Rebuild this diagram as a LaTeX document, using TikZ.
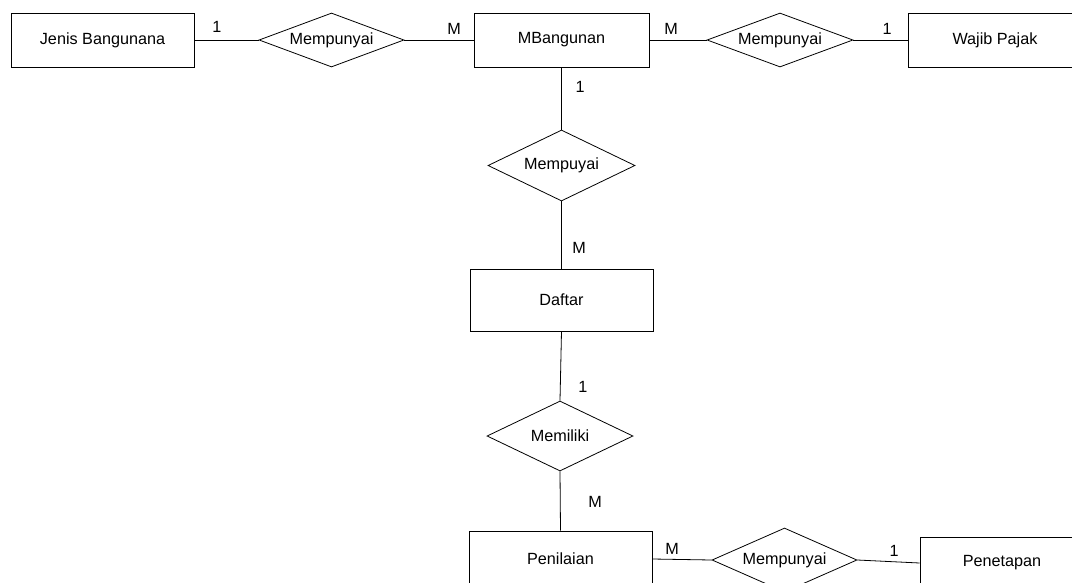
\documentclass[tikz,border=0pt]{standalone}
\usepackage{fontspec}
\setmainfont{Liberation Sans}
\usetikzlibrary{shapes.geometric}
\begin{document}
\begin{tikzpicture}[x=1pt,y=-1pt,
  every node/.style={font=\fontsize{16.2}{19}\selectfont},
  ent/.style={draw, line width=0.8pt, rectangle, inner sep=0pt},
  rel/.style={draw, line width=0.8pt, diamond, aspect=2.7, inner sep=0pt},
  conn/.style={draw, line width=0.8pt},
  card/.style={inner sep=0pt}]
\clip (0,0) rectangle (1072,582);
\fill[white] (0,0) rectangle (1072,582);
% entities
\node[ent, minimum width=183pt, minimum height=54pt] (jenis) at (102.5,40) {Jenis Bangunana};
\node[ent, minimum width=175pt, minimum height=54pt] (mbang) at (561.5,40) {MBangunan};
\node[ent, minimum width=174pt, minimum height=54pt] (wajib) at (995,40) {Wajib Pajak};
\node[ent, minimum width=183pt, minimum height=62pt] (daftar) at (561.5,300) {Daftar};
\node[ent, minimum width=183pt, minimum height=56pt] (penilaian) at (560.5,559) {Penilaian};
\node[ent, minimum width=164pt, minimum height=52pt] (penetapan) at (1002,563) {Penetapan};
% relations
\node[rel, minimum width=145pt, minimum height=54pt] (d1) at (331.5,40) {Mempunyai};
\node[rel, minimum width=146pt, minimum height=54pt] (d2) at (780,40) {Mempunyai};
\node[rel, minimum width=147pt, minimum height=71pt] (d3) at (561.5,165.5) {Mempuyai};
\node[rel, minimum width=146pt, minimum height=70pt] (d4) at (560,436) {Memiliki};
\node[rel, minimum width=145pt, minimum height=64pt] (d5) at (784.5,560) {Mempunyai};
% connectors
\draw[conn] (jenis.east) -- (d1.west);
\draw[conn] (d1.east) -- (mbang.west);
\draw[conn] (mbang.east) -- (d2.west);
\draw[conn] (d2.east) -- (wajib.west);
\draw[conn] (mbang.south) -- (d3.north);
\draw[conn] (d3.south) -- (daftar.north);
\draw[conn] (daftar.south) -- (d4.north);
\draw[conn] (d4.south) -- (penilaian.north);
\draw[conn] (penilaian.east) -- (d5.west);
\draw[conn] (d5.east) -- (penetapan.west);
% cardinalities
\node[card] (c1) at (217,27) {1};
\node[card] (c2) at (454,29) {M};
\node[card] (c3) at (671,29) {M};
\node[card] (c4) at (887,29) {1};
\node[card] (c5) at (580,87) {1};
\node[card] (c6) at (579,248) {M};
\node[card] (c7) at (583,387) {1};
\node[card] (c8) at (595,502) {M};
\node[card] (c9) at (672,549) {M};
\node[card] (c10) at (894,551) {1};
\end{tikzpicture}
\end{document}
